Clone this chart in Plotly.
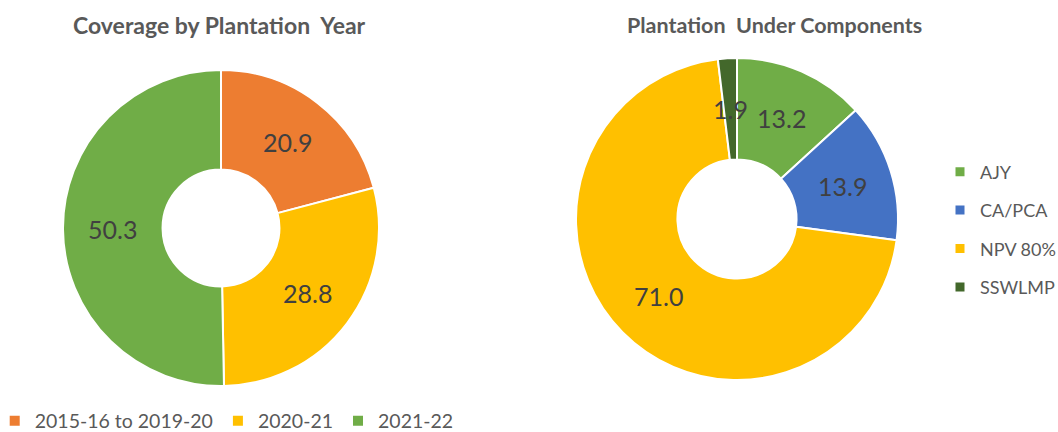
import math
import plotly.graph_objects as go

# Coverage by plantation year
year_labels = ["2015-16 to 2019-20", "2020-21", "2021-22"]
year_values = [20.9, 28.8, 50.3]
year_colors = ["#ED7D31", "#FFC000", "#70AD47"]

# Plantation under components
comp_labels = ["AJY", "CA/PCA", "NPV 80%", "SSWLMP"]
comp_values = [13.2, 13.9, 71.0, 1.9]
comp_colors = ["#70AD47", "#4472C4", "#FFC000", "#43682B"]

W, H = 1058, 432
FONT = "Lato"
TEXT_GREY = "#595959"
LABEL_GREY = "#404040"
HOLE = 0.37

# pie placement: centre (px from top-left) and outer radius (px)
left_pie = dict(cx=221, cy=228, r=158)
right_pie = dict(cx=737, cy=219, r=161)


def domain_of(p):
    return dict(x=[(p["cx"] - p["r"]) / W, (p["cx"] + p["r"]) / W],
                y=[(H - p["cy"] - p["r"]) / H, (H - p["cy"] + p["r"]) / H])


def value_labels(values, p):
    """Place each value at the middle of its ring segment (clockwise from 12 o'clock)."""
    total = sum(values)
    mid_r = p["r"] * (1 + HOLE) / 2
    out, acc = [], 0.0
    for v in values:
        ang = 2 * math.pi * (acc + v / 2) / total
        acc += v
        x = p["cx"] + mid_r * math.sin(ang)
        y = p["cy"] - mid_r * math.cos(ang)
        out.append(dict(text=f"{v:.1f}", x=x / W, y=1 - y / H,
                        xref="paper", yref="paper", showarrow=False,
                        xanchor="center", yanchor="middle",
                        font=dict(family=FONT, size=25, color=LABEL_GREY)))
    return out


fig = go.Figure()

fig.add_trace(go.Pie(
    labels=year_labels, values=year_values, sort=False,
    direction="clockwise", rotation=0, hole=HOLE,
    marker=dict(colors=year_colors, line=dict(color="white", width=2)),
    textinfo="none", domain=domain_of(left_pie),
    legend="legend", showlegend=True, hoverinfo="label+value",
))

fig.add_trace(go.Pie(
    labels=comp_labels, values=comp_values, sort=False,
    direction="clockwise", rotation=0, hole=HOLE,
    marker=dict(colors=comp_colors, line=dict(color="white", width=2)),
    textinfo="none", domain=domain_of(right_pie),
    showlegend=False, hoverinfo="label+value",
))

# Legend entries for the component chart, spaced with group gaps
for lab, col in zip(comp_labels, comp_colors):
    fig.add_trace(go.Scatter(
        x=[None], y=[None], mode="markers", name=lab,
        marker=dict(symbol="square", size=9, color=col),
        legend="legend2", legendgroup=lab, hoverinfo="skip",
    ))

titles = [
    dict(text="<b>Coverage by Plantation  Year</b>", x=219 / W, y=1 - 25 / H, size=23),
    dict(text="<b>Plantation  Under Components</b>", x=774 / W, y=1 - 25 / H, size=21.5),
]
title_annotations = [
    dict(text=t["text"], x=t["x"], y=t["y"], xref="paper", yref="paper",
         showarrow=False, xanchor="center", yanchor="middle",
         font=dict(family=FONT, size=t["size"], color=TEXT_GREY))
    for t in titles
]

fig.update_layout(
    width=W, height=H,
    margin=dict(l=0, r=0, t=0, b=0, autoexpand=False),
    paper_bgcolor="white", plot_bgcolor="white",
    font=dict(family=FONT, color=TEXT_GREY),
    xaxis=dict(visible=False), yaxis=dict(visible=False),
    legend=dict(
        orientation="h", x=-0.005, y=-0.02, xanchor="left", yanchor="bottom",
        font=dict(family=FONT, size=19.5, color=TEXT_GREY),
        itemwidth=30, traceorder="normal",
    ),
    legend2=dict(
        orientation="v", x=940 / W, y=1 - 229.5 / H, xanchor="left", yanchor="middle",
        font=dict(family=FONT, size=18, color=TEXT_GREY),
        tracegroupgap=12, itemwidth=30,
    ),
    annotations=title_annotations
    + value_labels(year_values, left_pie)
    + value_labels(comp_values, right_pie),
)

fig.write_html("out.html")
